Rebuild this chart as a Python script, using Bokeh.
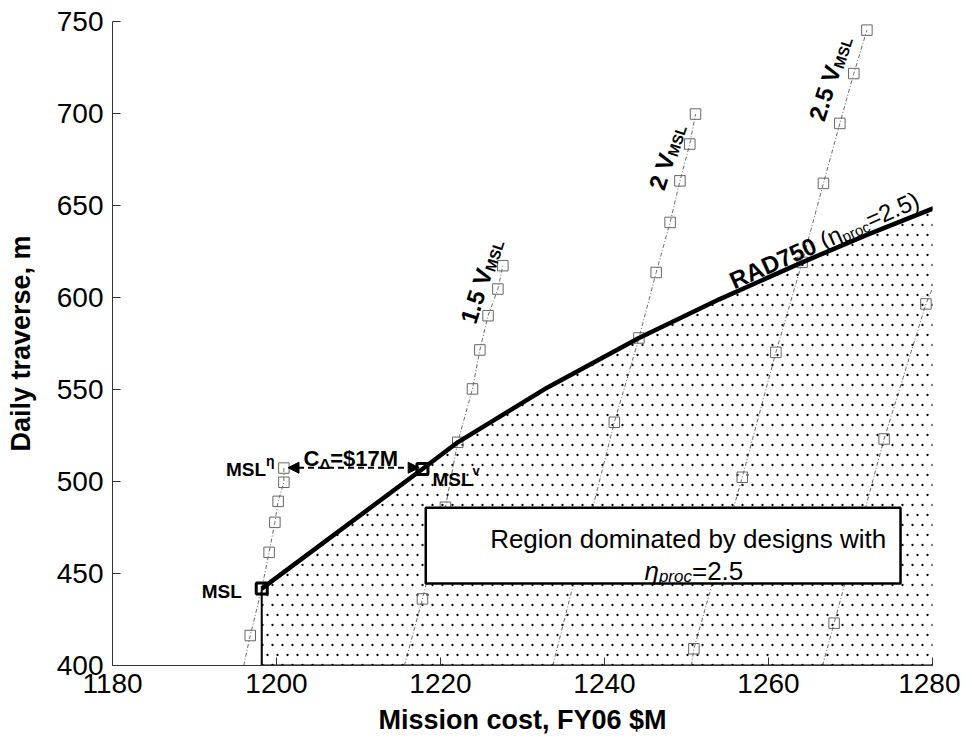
import math
import base64
from bokeh.plotting import figure
from bokeh.models import Label, FixedTicker, Arrow, NormalHead, ImageURLTexture
from bokeh.embed import file_html
from bokeh.resources import INLINE

# ---------------- data ----------------
cost_ticks = [1180, 1200, 1220, 1240, 1260, 1280]
traverse_ticks = [400, 450, 500, 550, 600, 650, 700, 750]

# RAD750 (eta_proc = 2.5) frontier
frontier_cost = [1198.2, 1217.8, 1222.1, 1233.0, 1244.2, 1254.0, 1264.1, 1272.0, 1280.4]
frontier_trav = [441.8, 506.8, 521.3, 551.0, 578.0, 599.0, 619.1, 634.0, 649.0]

# constant-velocity families: design points (squares)
v10_cost = [1196.8, 1198.2, 1199.1, 1199.8, 1200.2, 1200.9, 1200.9]
v10_trav = [416.3, 441.8, 461.5, 477.8, 489.2, 499.6, 507.3]
v15_cost = [1217.8, 1220.6, 1222.1, 1223.9, 1224.8, 1225.8, 1227.0, 1227.6]
v15_trav = [436.2, 486.0, 521.3, 550.3, 571.5, 590.1, 604.6, 617.3]
v20_cost = [1241.2, 1244.2, 1246.3, 1248.0, 1249.2, 1250.4, 1251.1]
v20_trav = [532.2, 578.0, 613.6, 640.8, 663.4, 683.4, 699.7]
v25_cost = [1250.9, 1256.8, 1260.9, 1264.1, 1266.7, 1268.7, 1270.4, 1272.0]
v25_trav = [409.1, 502.3, 570.2, 619.1, 662.0, 694.6, 721.7, 745.3]
v30_cost = [1268.0, 1274.1, 1279.2]
v30_trav = [423.0, 523.1, 596.5]

# where each family's curve meets the cost axis (traverse = 400)
axis_cost = {"v10": 1196.0, "v15": 1215.6, "v20": 1233.7, "v25": 1250.6, "v30": 1266.6}
v30_end = (1280.0, 605.0)

# highlighted designs
msl = (1198.2, 441.8)
msl_v = (1217.8, 506.8)
msl_eta = (1200.9, 507.3)
cost_delta = [1201.4, 1217.4]
cost_delta_trav = 507.5

# ---------------- styling ----------------
FONT = "Liberation Sans"
W_N = {" ": .278, "(": .333, ")": .333, ".": .278, "=": .584, "$": .556, "C": .722, "M": .833,
       "S": .667, "L": .556, "V": .667, "R": .722, "A": .667, "D": .722, "p": .556, "r": .333,
       "o": .556, "c": .5, "v": .5, "η": .556, "Δ": .668}
W_B = {" ": .278, "(": .333, ")": .333, ".": .278, "=": .584, "$": .556, "C": .722, "M": .833,
       "S": .667, "L": .611, "V": .667, "R": .722, "A": .722, "D": .722, "p": .611, "r": .389,
       "o": .611, "c": .556, "v": .556, "η": .611, "Δ": .722}


def tw(s, size, style):
    tbl = W_B if "bold" in style else W_N
    return sum(tbl.get(ch, .556) for ch in s) * size


def rich_label(p, x, y, runs, angle_deg=0.0, align="left", dx=0.0, dy=0.0):
    th = math.radians(angle_deg)
    c, s = math.cos(th), math.sin(th)
    if len(runs) == 1:
        t, sz, st, sh = runs[0]
        p.add_layout(Label(x=x, y=y, x_offset=dx, y_offset=dy, text=t, angle=th,
                           text_font=FONT, text_font_size=f"{sz}px", text_font_style=st,
                           text_color="black", text_align=align, text_baseline="alphabetic"))
        return
    total = sum(tw(t, sz, st) for t, sz, st, sh in runs)
    cum = 0.0 if align == "left" else -total / 2.0
    for t, sz, st, sh in runs:
        ox = dx + cum * c - sh * s
        oy = dy + cum * s + sh * c
        p.add_layout(Label(x=x, y=y, x_offset=ox, y_offset=oy, text=t, angle=th,
                           text_font=FONT, text_font_size=f"{sz}px", text_font_style=st,
                           text_color="black", text_align="left", text_baseline="alphabetic"))
        cum += tw(t, sz, st)


p = figure(width=960, height=740, x_range=(1180, 1280), y_range=(400, 750),
           output_backend="svg", toolbar_location=None,
           min_border_left=112, min_border_right=28, min_border_top=21, min_border_bottom=75)
p.outline_line_color = None
p.grid.visible = False
p.background_fill_color = "white"

for ax in (p.xaxis[0], p.yaxis[0]):
    ax.major_tick_in = 8
    ax.major_tick_out = 0
    ax.minor_tick_line_color = None
    ax.axis_line_color = "#333333"
    ax.major_tick_line_color = "#333333"
    ax.major_label_text_font = FONT
    ax.major_label_text_font_size = "28px"
    ax.major_label_text_color = "black"
    ax.axis_label_text_font = FONT
    ax.axis_label_text_font_size = "27px"
    ax.axis_label_text_font_style = "bold"
    ax.axis_label_text_color = "black"

p.xaxis.ticker = FixedTicker(ticks=cost_ticks)
p.yaxis.ticker = FixedTicker(ticks=traverse_ticks)
p.xaxis.axis_label = "Mission cost, FY06 $M"
p.yaxis.axis_label = "Daily traverse, m"
p.xaxis.major_label_standoff = 8
p.xaxis.axis_label_standoff = 9
p.yaxis.major_label_standoff = 9
p.yaxis.axis_label_standoff = 18

# fine staggered dot texture for the dominated region
tile_svg = ('<svg xmlns="http://www.w3.org/2000/svg" width="20" height="20">'
            '<circle cx="2.5" cy="5" r="1.15" fill="black"/>'
            '<circle cx="12.5" cy="5" r="1.15" fill="black"/>'
            '<circle cx="7.5" cy="15" r="1.15" fill="black"/>'
            '<circle cx="17.5" cy="15" r="1.15" fill="black"/></svg>')
tile_url = "data:image/svg+xml;base64," + base64.b64encode(tile_svg.encode()).decode()
dots = ImageURLTexture(url=tile_url, repetition="repeat")

reg_x = [msl[0]] + frontier_cost + [frontier_cost[-1]]
reg_y = [400] + frontier_trav + [400]
p.patch(reg_x, reg_y, fill_color="white", line_color="black", line_width=2,
        hatch_pattern="dots", hatch_extra={"dots": dots}, hatch_scale=20, hatch_weight=1,
        hatch_color="black")

# constant-velocity curves
families = [("v10", v10_cost, v10_trav), ("v15", v15_cost, v15_trav), ("v20", v20_cost, v20_trav),
            ("v25", v25_cost, v25_trav), ("v30", v30_cost, v30_trav)]
for key, cx, ty in families:
    lx = [axis_cost[key]] + cx
    ly = [400] + ty
    if key == "v30":
        lx = lx + [v30_end[0]]
        ly = ly + [v30_end[1]]
    p.line(lx, ly, line_color="#444444", line_width=0.8, line_dash="4 2 1 2")
    p.scatter(cx, ty, marker="square", size=10.5, fill_color=None, line_color="#666666", line_width=1)

# frontier
p.line(frontier_cost, frontier_trav, line_color="black", line_width=4.5)

# highlighted designs
p.scatter([msl[0], msl_v[0]], [msl[1], msl_v[1]], marker="square", size=11,
          fill_color=None, line_color="black", line_width=3)

# region text box
p.quad(left=[1218.2], right=[1276.1], bottom=[444.5], top=[485.8],
       fill_color="white", line_color="black", line_width=2.5)

# cost delta arrow
p.add_layout(Arrow(x_start=cost_delta[0], y_start=cost_delta_trav, x_end=cost_delta[1], y_end=cost_delta_trav,
                   line_color="black", line_width=2, line_dash="6 4",
                   start=NormalHead(size=11, fill_color="black", line_color="black"),
                   end=NormalHead(size=11, fill_color="black", line_color="black")))

# labels
rich_label(p, msl[0], msl[1], [("MSL", 19, "bold", 0)], dx=-60, dy=-3)
rich_label(p, msl_eta[0], msl_eta[1], [("MSL", 19, "bold", 0), ("η", 14, "bold", 9)], dx=-58, dy=-1.6)
rich_label(p, msl_v[0], msl_v[1], [("MSL", 19, "bold", 0), ("v", 13, "bold", 9)], dx=10, dy=-11)
rich_label(p, 1203.3, 512.3, [("C", 22, "bold", 0), ("Δ", 15, "bold", -5), ("=$17M", 22, "bold", 0)])

rich_label(p, 1223.3, 586.3, [("1.5 V", 24, "bold", 0), ("MSL", 15, "bold", -5)], angle_deg=72)
rich_label(p, 1246.3, 659.1, [("2 V", 24, "bold", 0), ("MSL", 15, "bold", -5)], angle_deg=72)
rich_label(p, 1265.8, 696.6, [("2.5 V", 24, "bold", 0), ("MSL", 15, "bold", -5)], angle_deg=72)
rich_label(p, 1255.4, 608.6, [("RAD750 ", 24, "bold", 0), ("(η", 24, "normal", 0), ("proc", 15, "normal", -5),
                              ("=2.5)", 24, "normal", 0)], angle_deg=24)

rich_label(p, 1250.2, 469.0, [("Region dominated by designs with", 26, "normal", 0)], align="center")
rich_label(p, 1250.9, 451.6, [("η", 26, "italic", 0), ("proc", 17, "italic", -6), ("=2.5", 26, "normal", 0)],
           align="center")

open("out.html", "w").write(file_html(p, INLINE))
